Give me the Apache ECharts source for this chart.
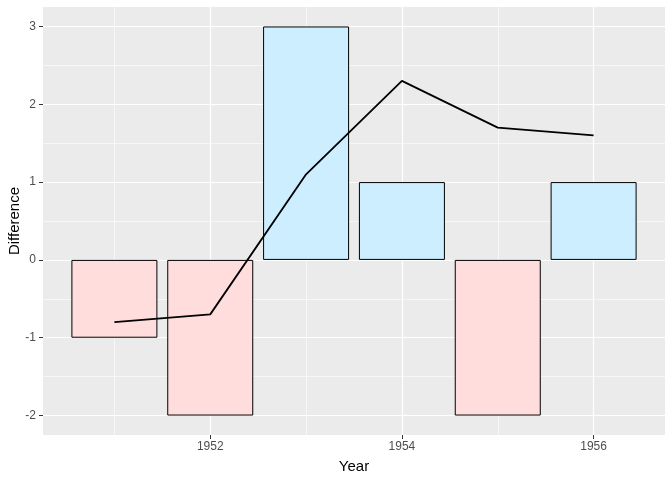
<!DOCTYPE html>
<html>
<head>
    <meta charset="utf-8">
    <title>Difference by year</title>
    <script src="https://cdn.jsdelivr.net/npm/echarts@6/dist/echarts.min.js"></script>
    <style>
        html, body { margin: 0; padding: 0; background: #fff; }
        #main { width: 672px; height: 480px; }
    </style>
</head>
<body>
<div id="main"></div>
<script>
    // data
    var years = [1951, 1952, 1953, 1954, 1955, 1956];
    var barValues = [-1, -2, 3, 1, -2, 1];
    var lineValues = [-0.8, -0.7, 1.1, 2.3, 1.7, 1.6];
    var posFill = '#CCEEFF';
    var negFill = '#FFDDDD';

    var xMin = 1950.255, xMax = 1956.745;
    var yMin = -2.25, yMax = 3.25;
    var font = 'Liberation Sans, Arial, sans-serif';

    var barData = years.map(function (y, i) {
        return {
            value: [y, barValues[i]],
            itemStyle: {color: barValues[i] >= 0 ? posFill : negFill}
        };
    });
    var lineData = years.map(function (y, i) {
        return [y, lineValues[i]];
    });

    var chart = echarts.init(document.getElementById('main'));

    // hidden axis just for the thin minor grid lines
    function minorAxis(min, max, split) {
        return {
            type: 'value', min: min, max: max, splitNumber: split,
            gridIndex: 0,
            axisLine: {show: false, onZero: false}, axisTick: {show: false}, axisLabel: {show: false},
            splitLine: {show: true, showMinLine: false, showMaxLine: false,
                lineStyle: {color: '#ffffff', width: 0.6}}
        };
    }

    chart.setOption({
        animation: false,
        grid: {
            left: 43, right: 7, top: 7, bottom: 45,
            outerBoundsMode: 'none', containLabel: false,
            show: true, backgroundColor: '#EBEBEB', borderWidth: 0
        },
        // y axis title, placed by hand so it sits like ggplot's
        graphic: [{
            type: 'text',
            x: 15, y: 221,
            rotation: Math.PI / 2,
            style: {
                text: 'Difference', fill: '#000', fontSize: 15, fontFamily: font,
                align: 'center', verticalAlign: 'middle'
            }
        }],
        xAxis: [
            {
                type: 'value', min: xMin, max: xMax, splitNumber: 3,
                name: 'Year', nameLocation: 'middle', nameGap: 24,
                nameTextStyle: {color: '#000', fontSize: 15, fontFamily: font},
                axisLine: {show: false, onZero: false},
                axisTick: {show: true, length: 4, lineStyle: {color: '#333333', width: 1}},
                axisLabel: {
                    color: '#4D4D4D', fontSize: 12, fontFamily: font, margin: 6,
                    showMinLabel: false, showMaxLabel: false,
                    formatter: function (v) { return String(v); }
                },
                splitLine: {show: true, showMinLine: false, showMaxLine: false,
                    lineStyle: {color: '#ffffff', width: 1.2}}
            },
            minorAxis(xMin, xMax, 6)
        ],
        yAxis: [
            {
                type: 'value', min: yMin, max: yMax, splitNumber: 5,
                axisLine: {show: false, onZero: false},
                axisTick: {show: true, length: 4, lineStyle: {color: '#333333', width: 1}},
                axisLabel: {
                    color: '#4D4D4D', fontSize: 12, fontFamily: font, margin: 7,
                    showMinLabel: false, showMaxLabel: false
                },
                splitLine: {show: true, showMinLine: false, showMaxLine: false,
                    lineStyle: {color: '#ffffff', width: 1.2}}
            },
            minorAxis(yMin, yMax, 11)
        ],
        series: [
            {
                type: 'bar',
                xAxisIndex: 0, yAxisIndex: 0,
                barWidth: 86,
                data: barData,
                itemStyle: {borderColor: '#000000', borderWidth: 1},
                z: 2
            },
            {
                type: 'line',
                xAxisIndex: 0, yAxisIndex: 0,
                data: lineData,
                showSymbol: false,
                lineStyle: {color: '#000000', width: 1.8},
                z: 3
            }
        ]
    });
</script>
</body>
</html>
